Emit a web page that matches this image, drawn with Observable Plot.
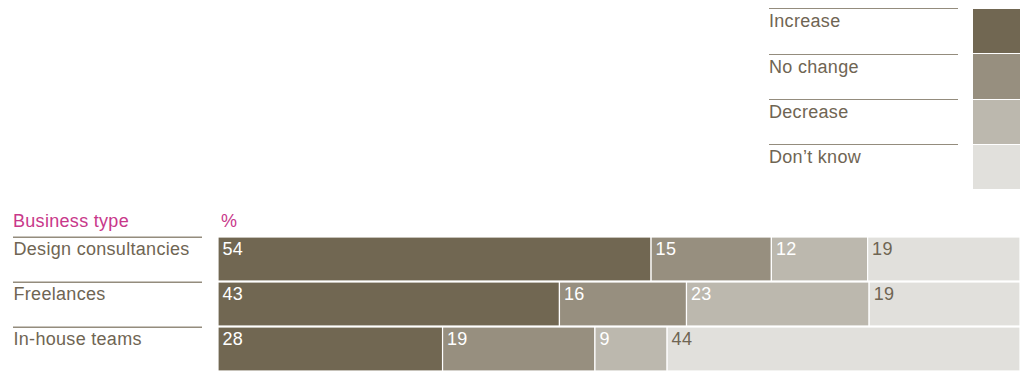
<!DOCTYPE html>
<html>
<head>
<meta charset="utf-8">
<script src="https://cdn.jsdelivr.net/npm/d3@7"></script>
<script src="https://cdn.jsdelivr.net/npm/@observablehq/plot@0.6"></script>
<style>
  html, body { margin: 0; padding: 0; background: #fff; }
  body { font-family: "Liberation Sans", Arial, Helvetica, sans-serif; }
  #wrap { position: relative; width: 1020px; height: 374px; overflow: hidden; }
  #chart { position: absolute; left: 0; top: 0; }
  .head { position: absolute; font-size: 18px; line-height: 20px; color: #c8388a; white-space: nowrap; letter-spacing: 0.3px; }
  .lg-row { position: absolute; box-sizing: border-box; border-top: 1.5px solid #948c7d; font-size: 18px; line-height: 20px; color: #6f6553; padding-top: 2px; white-space: nowrap; letter-spacing: 0.3px; }
  .lg-sw { position: absolute; }
</style>
</head>
<body>
<div id="wrap">
  <div id="chart"></div>
</div>
<script>
// ---- data ----
const types = ["Design consultancies", "Freelances", "In-house teams"];
const responses = ["Increase", "No change", "Decrease", "Don’t know"];
const increase = [54, 43, 28];
const noChange = [15, 16, 19];
const decrease = [12, 23, 9];
const dontKnow = [19, 19, 44];
const colors = ["#716752", "#978f7f", "#bcb8ae", "#e1e0dc"];
const yTitle = "Business type";
const xTitle = "%";

const series = [increase, noChange, decrease, dontKnow];
const data = types.flatMap((t, i) => responses.map((r, j) => ({type: t, response: r, value: series[j][i]})));

const textColor = "#6f6553";
const lineColor = "#948c7d";
const W = 1020, H = 374, mTop = 236, mBottom = 2, mLeft = 218;
const padIn = 0.03;
const step = (H - mTop - mBottom) / (types.length - padIn);
const bw = step * (1 - padIn);

const stackOpts = {x: "value", y: "type", z: "response", order: responses, offset: "normalize"};
const isDK = d => d.response === responses[3];

const chart = Plot.plot({
  width: W,
  height: H,
  marginTop: mTop,
  marginBottom: mBottom,
  marginLeft: mLeft,
  marginRight: 0,
  style: {fontFamily: "'Liberation Sans', Arial, Helvetica, sans-serif", fontSize: "18px", background: "transparent", letterSpacing: "0.3px"},
  x: {domain: [0, 1], axis: null},
  y: {domain: types, paddingInner: padIn, paddingOuter: 0},
  color: {domain: responses, range: colors},
  marks: [
    Plot.barX(data, Plot.stackX({...stackOpts, fill: "response", stroke: "#ffffff", strokeWidth: 1.2})),
    Plot.text(data, Plot.filter(d => !isDK(d), Plot.stackX1({...stackOpts, text: "value",
      textAnchor: "start", dx: 4, dy: -10, fill: "#ffffff", fontSize: 18}))),
    Plot.text(data, Plot.filter(isDK, Plot.stackX1({...stackOpts, text: "value",
      textAnchor: "start", dx: 4, dy: -10, fill: textColor, fontSize: 18}))),
    Plot.axisY({tickSize: 0, tickPadding: 0, textAnchor: "start", dx: -205, dy: -10, fill: textColor, fontSize: 18, label: null}),
    Plot.axisY({tickSize: 189, tickFormat: () => "", dx: -16, dy: -bw / 2, stroke: lineColor, strokeWidth: 1.5, label: null})
  ]
});
document.getElementById("chart").appendChild(chart);

// ---- headings ----
const wrap = document.getElementById("wrap");
function addHead(txt, left) {
  const d = document.createElement("div");
  d.className = "head";
  d.textContent = txt;
  d.style.left = left + "px";
  d.style.top = "211px";
  wrap.appendChild(d);
}
addHead(yTitle, 13);
addHead(xTitle, 221);

// ---- legend ----
const lgTop = 9, lgStep = 45.3;
responses.forEach((r, i) => {
  const row = document.createElement("div");
  row.className = "lg-row";
  row.style.left = "769px";
  row.style.top = (lgTop + i * lgStep - 0.75) + "px";
  row.style.width = "189px";
  row.style.height = lgStep + "px";
  row.textContent = r;
  wrap.appendChild(row);
  const sw = document.createElement("div");
  sw.className = "lg-sw";
  sw.style.left = "973px";
  sw.style.top = (lgTop + i * lgStep) + "px";
  sw.style.width = "47px";
  sw.style.height = (lgStep - 1) + "px";
  sw.style.background = colors[i];
  wrap.appendChild(sw);
});
</script>
</body>
</html>
